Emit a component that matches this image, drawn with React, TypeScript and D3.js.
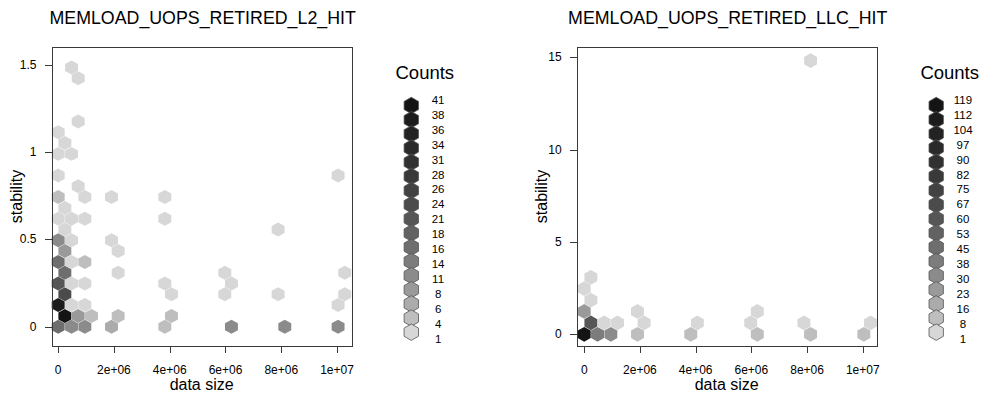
import React from "react";
import * as d3 from "d3";

// ---------- data ----------
const xTicks = [0, 2e6, 4e6, 6e6, 8e6, 1e7];
const xTickLabels = ["0", "2e+06", "4e+06", "6e+06", "8e+06", "1e+07"];

const l2Title = "MEMLOAD_UOPS_RETIRED_L2_HIT";
const l2YTicks = [0, 0.5, 1, 1.5];
const l2YTickLabels = ["0", "0.5", "1", "1.5"];
const l2Breaks = [1, 4, 6, 8, 11, 14, 16, 18, 21, 24, 26, 28, 31, 34, 36, 38, 41];
// [x half-bin index, y bin index, count]
const l2Cells: [number, number, number][] = [
  [0, 0, 16], [2, 0, 11], [4, 0, 11], [8, 0, 6], [16, 0, 4], [26, 0, 11], [34, 0, 11], [42, 0, 11],
  [1, 1, 41], [3, 1, 8], [5, 1, 4], [9, 1, 4], [17, 1, 4],
  [0, 2, 38], [2, 2, 1], [4, 2, 1], [42, 2, 1],
  [1, 3, 24], [17, 3, 1], [25, 3, 1], [33, 3, 1], [43, 3, 1],
  [0, 4, 21], [2, 4, 1], [4, 4, 1], [16, 4, 1], [26, 4, 1],
  [1, 5, 16], [9, 5, 1], [25, 5, 1], [43, 5, 1],
  [0, 6, 16], [2, 6, 1], [4, 6, 4],
  [1, 7, 8], [9, 7, 1],
  [0, 8, 11], [2, 8, 1], [8, 8, 1],
  [1, 9, 1], [33, 9, 1],
  [0, 10, 1], [2, 10, 1], [4, 10, 1], [16, 10, 1],
  [1, 11, 1],
  [0, 12, 4], [4, 12, 1], [8, 12, 1], [16, 12, 1],
  [3, 13, 1],
  [0, 14, 1], [42, 14, 1],
  [0, 16, 1], [2, 16, 1],
  [1, 17, 1],
  [0, 18, 1],
  [3, 19, 1],
  [3, 23, 1],
  [2, 24, 1],
];
const l2YBin = 0.0619;

const llcTitle = "MEMLOAD_UOPS_RETIRED_LLC_HIT";
const llcYTicks = [0, 5, 10, 15];
const llcYTickLabels = ["0", "5", "10", "15"];
const llcBreaks = [1, 8, 16, 23, 30, 38, 45, 53, 60, 67, 75, 82, 90, 97, 104, 112, 119];
const llcCells: [number, number, number][] = [
  [0, 0, 119], [2, 0, 38], [4, 0, 30], [8, 0, 8], [16, 0, 8], [26, 0, 8], [34, 0, 8], [42, 0, 8],
  [1, 1, 60], [3, 1, 1], [5, 1, 1], [9, 1, 1], [17, 1, 1], [25, 1, 1], [33, 1, 1], [43, 1, 1],
  [0, 2, 23], [8, 2, 1], [26, 2, 1],
  [1, 3, 1],
  [0, 4, 1],
  [1, 5, 1],
  [34, 24, 1],
];
const llcYBin = 0.6175;

const xBinWidth = 0.478e6;
const grayRamp = [
  "#d7d7d7", "#bebebe", "#ababab", "#9a9a9a", "#8b8b8b", "#7c7c7c", "#6e6e6e", "#626262",
  "#565656", "#4b4b4b", "#424242", "#393939", "#313131", "#2a2a2a", "#232323", "#1c1c1c", "#141414",
];

const FONT = "'Liberation Sans', Arial, Helvetica, sans-serif";

type PanelProps = {
  title: string;
  cells: [number, number, number][];
  yBin: number;
  breaks: number[];
  yTicks: number[];
  yTickLabels: string[];
  box: { x0: number; x1: number; y0: number; y1: number };
  xDomain: [number, number];
  yDomain: [number, number];
};

function levelOf(count: number, breaks: number[]) {
  let idx = 0;
  for (let i = 0; i < breaks.length; i++) if (breaks[i] <= count) idx = i;
  return idx;
}

function Panel(p: PanelProps) {
  const { box } = p;
  const x = d3.scaleLinear().domain(p.xDomain).range([box.x0, box.x1]);
  const y = d3.scaleLinear().domain(p.yDomain).range([box.y1, box.y0]);
  const hw = xBinWidth / 2;
  const s = 0.97;
  const offs: [number, number][] = [
    [0, (2 * p.yBin) / 3], [hw, p.yBin / 3], [hw, -p.yBin / 3],
    [0, (-2 * p.yBin) / 3], [-hw, -p.yBin / 3], [-hw, p.yBin / 3],
  ];
  const hexPath = (cx: number, cy: number) =>
    "M" + offs.map(([ox, oy]) => `${x(cx + ox * s)},${y(cy + oy * s)}`).join("L") + "Z";

  // legend
  const legX = box.x1 + 59.5;
  const n = p.breaks.length;
  const legHexY = d3.scaleLinear().domain([n - 1, 0]).range([105.5, 332.2]);
  const legLabY = d3.scaleLinear().domain([n - 1, 0]).range([100, 338.5]);
  const lhw = 7.2, lr = 8.2;
  const legHex = (cx: number, cy: number) =>
    `M${cx},${cy - lr}L${cx + lhw},${cy - lr / 2}L${cx + lhw},${cy + lr / 2}L${cx},${cy + lr}L${cx - lhw},${cy + lr / 2}L${cx - lhw},${cy - lr / 2}Z`;
  const midX = (box.x0 + box.x1) / 2;
  const midY = (box.y0 + box.y1) / 2;

  return (
    <g fontFamily={FONT}>
      <text x={midX + 1} y={24} fontSize={17.8} textAnchor="middle" fill="#000">{p.title}</text>
      {p.cells.map(([h, r, c], i) => (
        <path key={i} d={hexPath(h * hw, r * p.yBin)} fill={grayRamp[levelOf(c, p.breaks)]} />
      ))}
      <rect x={box.x0 + 0.5} y={box.y0 + 0.5} width={box.x1 - box.x0} height={box.y1 - box.y0}
        fill="none" stroke="#3a3a3a" strokeWidth={1} shapeRendering="crispEdges" />
      {xTicks.map((t, i) => (
        <g key={i}>
          <line x1={Math.round(x(t)) + 0.5} x2={Math.round(x(t)) + 0.5} y1={box.y1} y2={box.y1 + 7}
            stroke="#3a3a3a" shapeRendering="crispEdges" />
          <text x={x(t)} y={374} fontSize={12} textAnchor="middle">{xTickLabels[i]}</text>
        </g>
      ))}
      {p.yTicks.map((t, i) => (
        <g key={i}>
          <line x1={box.x0 - 7} x2={box.x0} y1={Math.round(y(t)) + 0.5} y2={Math.round(y(t)) + 0.5}
            stroke="#3a3a3a" shapeRendering="crispEdges" />
          <text x={box.x0 - 15} y={y(t) + 4} fontSize={12} textAnchor="end">{p.yTickLabels[i]}</text>
        </g>
      ))}
      <text x={midX} y={389.5} fontSize={16} textAnchor="middle">data size</text>
      <text transform={`translate(${box.x0 - 30},${midY}) rotate(-90)`} fontSize={16} textAnchor="middle">stability</text>
      <text x={box.x1 + 73} y={78.5} fontSize={18.5} textAnchor="middle">Counts</text>
      {p.breaks.map((b, i) => (
        <path key={"h" + i} d={legHex(legX, legHexY(n - 1 - i))} fill={grayRamp[n - 1 - i]}
          stroke="#555" strokeWidth={0.8} />
      ))}
      {p.breaks.map((b, i) => (
        <text key={"t" + i} x={box.x1 + 86.3} y={legLabY(i) + 4} fontSize={11.5} textAnchor="middle">{b}</text>
      ))}
    </g>
  );
}

export default function App() {
  return (
    <svg width={984} height={397} style={{ position: "absolute", left: 0, top: 0, background: "#fff" }}>
      <rect width={984} height={397} fill="#fff" />
      <Panel title={l2Title} cells={l2Cells} yBin={l2YBin} breaks={l2Breaks}
        yTicks={l2YTicks} yTickLabels={l2YTickLabels}
        box={{ x0: 51.5, x1: 351.8, y0: 47, y1: 346 }}
        xDomain={[-0.24e6, 10.53e6]} yDomain={[-0.1106, 1.603]} />
      <Panel title={llcTitle} cells={llcCells} yBin={llcYBin} breaks={llcBreaks}
        yTicks={llcYTicks} yTickLabels={llcYTickLabels}
        box={{ x0: 576.7, x1: 876.7, y0: 47, y1: 346 }}
        xDomain={[-0.27e6, 10.5e6]} yDomain={[-0.634, 15.557]} />
    </svg>
  );
}
